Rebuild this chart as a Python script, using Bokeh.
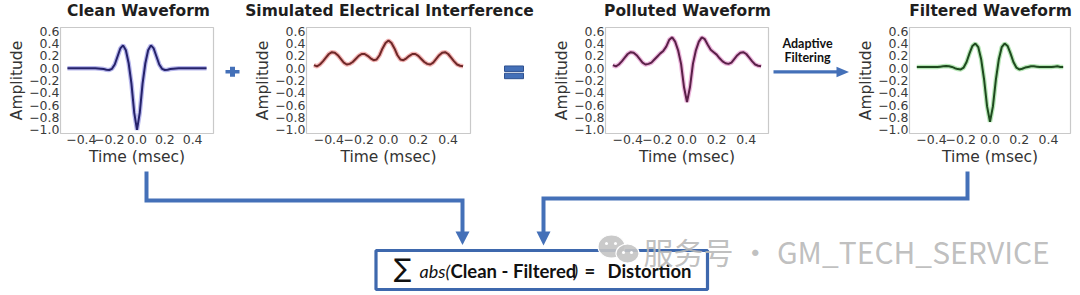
from bokeh.plotting import figure
from bokeh.layouts import column, row
from bokeh.models import Range1d, FixedTicker, CustomJSTickFormatter
from bokeh.core.properties import value
from bokeh.embed import file_html
from bokeh.resources import INLINE

# ---------------- data ----------------
time_ms = [-0.50, -0.48, -0.46, -0.44, -0.42, -0.40, -0.38, -0.36, -0.34, -0.32,
           -0.30, -0.28, -0.26, -0.24, -0.22, -0.20, -0.18, -0.16, -0.14, -0.12,
           -0.10, -0.08, -0.06, -0.04, -0.02, 0.00, 0.02, 0.04, 0.06, 0.08,
           0.10, 0.12, 0.14, 0.16, 0.18, 0.20, 0.22, 0.24, 0.26, 0.28,
           0.30, 0.32, 0.34, 0.36, 0.38, 0.40, 0.42, 0.44, 0.46, 0.48, 0.50]

clean = [0.00, 0.00, 0.00, 0.00, 0.00, 0.00, 0.00, 0.00, 0.00, 0.00,
         0.00, -0.005, -0.01, -0.015, -0.025, -0.03, -0.01, 0.06, 0.19, 0.32,
         0.37, 0.29, 0.08, -0.25, -0.72, -1.00, -0.72, -0.25, 0.08, 0.29,
         0.37, 0.32, 0.19, 0.06, -0.01, -0.03, -0.025, -0.015, -0.01, -0.005,
         0.00, 0.00, 0.00, 0.00, 0.00, 0.00, 0.00, 0.00, 0.00, 0.00, 0.00]

interference = [0.05, 0.03, 0.06, 0.11, 0.17, 0.23, 0.26, 0.25, 0.21, 0.15,
                0.09, 0.06, 0.07, 0.10, 0.15, 0.20, 0.23, 0.23, 0.20, 0.16,
                0.13, 0.14, 0.21, 0.32, 0.41, 0.45, 0.41, 0.32, 0.21, 0.14,
                0.13, 0.16, 0.20, 0.23, 0.23, 0.20, 0.15, 0.10, 0.07, 0.06,
                0.09, 0.15, 0.21, 0.25, 0.26, 0.23, 0.17, 0.11, 0.06, 0.04, 0.03]

polluted = [0.05, 0.03, 0.06, 0.11, 0.17, 0.23, 0.26, 0.25, 0.21, 0.15,
            0.09, 0.06, 0.07, 0.09, 0.14, 0.19, 0.24, 0.28, 0.35, 0.46,
            0.50, 0.43, 0.29, 0.07, -0.31, -0.55, -0.31, 0.07, 0.29, 0.43,
            0.50, 0.47, 0.38, 0.30, 0.26, 0.22, 0.16, 0.11, 0.08, 0.07,
            0.09, 0.15, 0.21, 0.25, 0.26, 0.23, 0.17, 0.11, 0.06, 0.04, 0.03]

filtered = [0.02, 0.02, 0.02, 0.02, 0.02, 0.02, 0.02, 0.02, 0.025, 0.03,
            0.035, 0.03, 0.02, 0.00, -0.015, -0.02, 0.01, 0.10, 0.24, 0.36,
            0.40, 0.34, 0.14, -0.19, -0.62, -0.87, -0.62, -0.19, 0.14, 0.34,
            0.40, 0.36, 0.24, 0.10, 0.01, -0.02, -0.01, 0.01, 0.02, 0.03,
            0.03, 0.025, 0.02, 0.02, 0.02, 0.02, 0.02, 0.025, 0.03, 0.02, 0.02]

y_ticks = [-1.0, -0.8, -0.6, -0.4, -0.2, 0.0, 0.2, 0.4, 0.6]
x_ticks = [-0.4, -0.2, 0.0, 0.2, 0.4]
titles = ["Clean Waveform", "Simulated Electrical Interference",
          "Polluted Waveform", "Filtered Waveform"]
x_label = "Time (msec)"
y_label = "Amplitude"
formula_parts = ["\u2211", "abs(", "Clean - Filtered", ")", "=", "Distortion"]
filter_label = ["Adaptive", "Filtering"]
watermark = "\u670d\u52a1\u53f7 \u00b7 GM_TECH_SERVICE"

# ---------------- styles ----------------
BLUE = "#4470b8"
ROW_TOP, ROW_BOTTOM = 22, 168
FONT = "DejaVu Sans"
HUMAN = "Lato"

minus_fmt = "return tick.toFixed(1).replace('-', '\u2212');"


def wave_fig(width, left, right, ys, halo, core):
    p = figure(width=width, height=ROW_BOTTOM - ROW_TOP,
               x_range=Range1d(-0.55, 0.55), y_range=Range1d(-1.06, 0.66),
               output_backend="svg", toolbar_location=None,
               min_border_left=left, min_border_right=right,
               min_border_top=5, min_border_bottom=33)
    p.xgrid.visible = False
    p.ygrid.visible = False
    p.outline_line_color = "#c9c9c9"
    p.outline_line_width = 1.2
    for ax, ticks in ((p.xaxis, x_ticks), (p.yaxis, y_ticks)):
        ax.ticker = FixedTicker(ticks=ticks)
        ax.formatter = CustomJSTickFormatter(code=minus_fmt)
        ax.major_tick_line_color = None
        ax.minor_tick_line_color = None
        ax.major_tick_out = 0
        ax.major_tick_in = 0
        ax.minor_tick_out = 0
        ax.minor_tick_in = 0
        ax.axis_line_color = None
        ax.major_label_text_font = FONT
        ax.major_label_text_font_size = "12.5px"
        ax.major_label_text_color = "#3a3a3a"
        ax.major_label_standoff = 1
        ax.axis_label_text_font = FONT
        ax.axis_label_text_font_size = "15.5px"
        ax.axis_label_text_font_style = "normal"
        ax.axis_label_text_color = "#333333"
    p.xaxis.axis_label = x_label
    p.yaxis.axis_label = y_label
    p.xaxis.axis_label_standoff = 1
    p.yaxis.axis_label_standoff = 0
    p.line(time_ms, ys, line_color=halo, line_width=4.5, line_alpha=0.4)
    p.line(time_ms, ys, line_color=core, line_width=2.0)
    return p


def blank_fig(width, height, x0, x1, y0, y1):
    p = figure(width=width, height=height, x_range=Range1d(x0, x1),
               y_range=Range1d(y1, y0), output_backend="svg",
               toolbar_location=None, x_axis_type=None, y_axis_type=None,
               min_border=0)
    p.outline_line_color = None
    p.xgrid.visible = False
    p.ygrid.visible = False
    return p


# ---------------- title strip ----------------
ttl = blank_fig(1080, ROW_TOP, 0, 1080, 0, ROW_TOP)
ttl.text(x=[138, 389, 687, 990], y=[10.5, 10.5, 10.5, 10.5], text=titles,
         text_font=value(FONT), text_font_size="15.5px", text_font_style="bold",
         text_color="#1e1e1e", text_align="center", text_baseline="middle")

# ---------------- waveform row ----------------
f1 = wave_fig(220, 60, 7, clean, "#4a4ad0", "#25226a")
spA = blank_fig(27, ROW_BOTTOM - ROW_TOP, 220, 247, ROW_TOP, ROW_BOTTOM)
spA.quad(left=[225, 229.5], right=[239, 234.5], top=[80.5, 76], bottom=[85.5, 90],
         fill_color=BLUE, line_color=None)
f2 = wave_fig(229, 59, 6, interference, "#e04848", "#6e2828")
spB = blank_fig(72, ROW_BOTTOM - ROW_TOP, 476, 548, ROW_TOP, ROW_BOTTOM)
spB.quad(left=[504, 504], right=[523, 523], top=[75, 85], bottom=[82.5, 92.5],
         fill_color=BLUE, line_color="#2f5190", line_width=1)
f3 = wave_fig(224, 57, 4, polluted, "#d048a8", "#5a2048")
spC = blank_fig(79, ROW_BOTTOM - ROW_TOP, 772, 851, ROW_TOP, ROW_BOTTOM)
spC.text(x=[807, 807], y=[44, 63], text=filter_label, text_font=value(HUMAN),
         text_font_size="12.5px", text_font_style="bold", text_color="#111111",
         text_align="center", text_baseline="middle")
spC.quad(left=[773], right=[838], top=[80.8], bottom=[85.5], fill_color=BLUE,
         line_color=None)
spC.patch(x=[836, 848.5, 836], y=[76, 83.2, 90.5], fill_color=BLUE, line_color=None)
f4 = wave_fig(229, 58, 10, filtered, "#48c048", "#1e4a1e")

top_row = row(f1, spA, f2, spB, f3, spC, f4)

# ---------------- bottom connectors & formula ----------------
bot = blank_fig(1080, 295 - ROW_BOTTOM, 0, 1080, ROW_BOTTOM, 295)
bot.line(x=[146, 146, 462, 462], y=[171, 200, 200, 233], line_color=BLUE,
         line_width=4, line_join="miter")
bot.patch(x=[455, 462, 469], y=[231, 244.5, 231], fill_color=BLUE, line_color=None)
bot.line(x=[967, 967, 543, 543], y=[171, 198, 198, 233], line_color=BLUE,
         line_width=4, line_join="miter")
bot.patch(x=[536, 543, 550], y=[231, 245, 231], fill_color=BLUE, line_color=None)
bot.quad(left=[375.5], right=[707], top=[250], bottom=[289], fill_color="white",
         line_color="#3e68ad", line_width=3.2)

bot.text(x=[402], y=[267], text=[formula_parts[0]], text_font=value(FONT),
         text_font_size="26px", text_color="#111111", text_align="center",
         text_baseline="middle")
bot.text(x=[419, 573], y=[270, 270], text=[formula_parts[1], formula_parts[3]],
         text_font=value(HUMAN), text_font_size="18px", text_font_style="italic",
         text_color="#111111", text_baseline="middle")
bot.text(x=[450, 584, 607], y=[270, 270, 270],
         text=[formula_parts[2], formula_parts[4], formula_parts[5]],
         text_font=value(HUMAN), text_font_size="18.5px", text_font_style="bold",
         text_color="#111111", text_baseline="middle")

# watermark
bot.ellipse(x=[611, 627], y=[246, 253], width=[27, 23], height=[23, 19],
            fill_color="#c4c4c4", line_color="white", line_width=1.2, fill_alpha=0.9)
bot.scatter(x=[606, 615, 623, 631], y=[243, 243, 252, 252], size=3,
            fill_color="white", line_color=None)
bot.text(x=[643], y=[250], text=[watermark], text_font=value("Noto Sans CJK SC"),
         text_font_size="30px", text_color="#b8b8b8", text_alpha=0.9,
         text_baseline="middle")

layout = column(ttl, top_row, bot)
open("out.html", "w").write(file_html(layout, INLINE))
